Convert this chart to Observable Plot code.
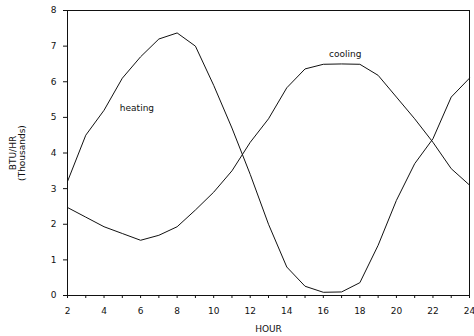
<!DOCTYPE html>
<html>
<head>
<meta charset="utf-8">
<script src="https://cdn.jsdelivr.net/npm/d3@7"></script>
<script src="https://cdn.jsdelivr.net/npm/@observablehq/plot@0.6"></script>
<style>
  body { margin: 0; background: #fff; }
  svg { font-family: "DejaVu Sans", sans-serif; }
</style>
</head>
<body>
<div id="chart"></div>
<script>
const hours = [2,3,4,5,6,7,8,9,10,11,12,13,14,15,16,17,18,19,20,21,22,23,24];
const heating = [3.2,4.5,5.2,6.1,6.7,7.2,7.37,7.0,5.9,4.7,3.4,2.0,0.8,0.26,0.09,0.1,0.36,1.41,2.67,3.7,4.4,5.57,6.1];
const cooling = [2.47,2.2,1.93,1.74,1.55,1.69,1.93,2.4,2.9,3.5,4.3,4.96,5.83,6.36,6.49,6.5,6.49,6.18,5.57,4.96,4.3,3.56,3.1];
const xTicks = [2,4,6,8,10,12,14,16,18,20,22,24];
const yTicks = [0,1,2,3,4,5,6,7,8];
const seriesLabels = [
  {name: "heating", hour: 5.8, value: 5.27},
  {name: "cooling", hour: 17.2, value: 6.78}
];

const heatData = hours.map((h, i) => ({hour: h, value: heating[i]}));
const coolData = hours.map((h, i) => ({hour: h, value: cooling[i]}));

const chart = Plot.plot({
  width: 474,
  height: 336,
  marginLeft: 67,
  marginRight: 5,
  marginTop: 10,
  marginBottom: 41,
  style: {fontSize: "9px", fontFamily: "DejaVu Sans, sans-serif", color: "#111"},
  x: {domain: [2, 24]},
  y: {domain: [0, 8]},
  marks: [
    Plot.frame({stroke: "#111", strokeWidth: 1}),
    Plot.axisX({ticks: hours, tickSize: 3, tickFormat: () => "", label: null}),
    Plot.axisX({ticks: xTicks, tickSize: 0, tickPadding: 12, label: "HOUR", labelAnchor: "center", labelArrow: "none", labelOffset: 36}),
    Plot.axisY({ticks: yTicks, tickSize: 4, tickPadding: 7, label: "BTU/HR\n(Thousands)", labelAnchor: "center", labelArrow: "none", labelOffset: 58}),
    Plot.line(heatData, {x: "hour", y: "value", stroke: "#111", strokeWidth: 1}),
    Plot.line(coolData, {x: "hour", y: "value", stroke: "#111", strokeWidth: 1}),
    Plot.text(seriesLabels, {x: "hour", y: "value", text: "name", fontSize: 9, fill: "#111"})
  ]
});
document.getElementById("chart").appendChild(chart);
</script>
</body>
</html>
